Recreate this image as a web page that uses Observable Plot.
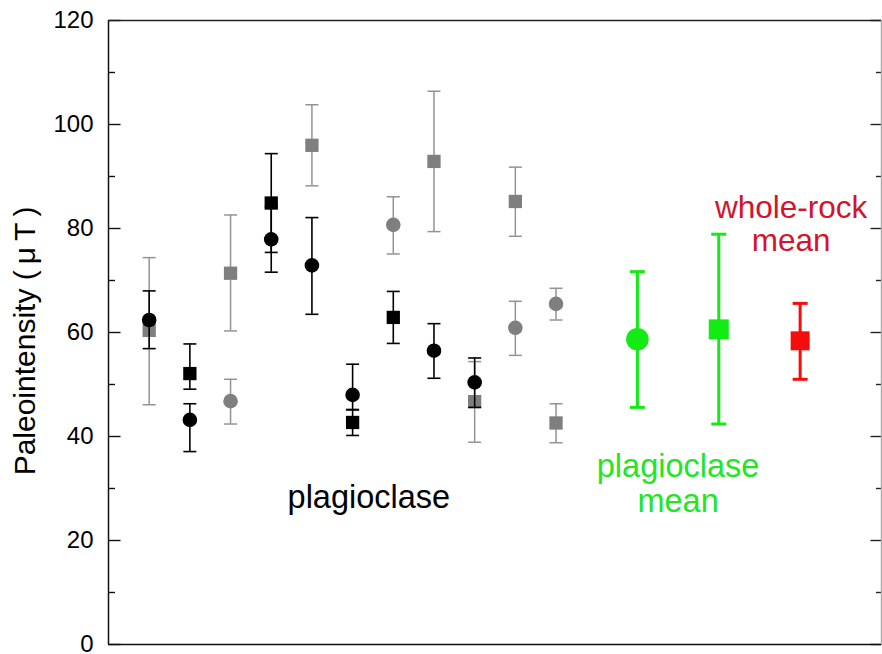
<!DOCTYPE html>
<html><head><meta charset="utf-8">
<script src="https://cdn.jsdelivr.net/npm/d3@7"></script>
<script src="https://cdn.jsdelivr.net/npm/@observablehq/plot@0.6"></script>
<style>html,body{margin:0;padding:0;background:#fff;} #chart svg{display:block;}</style>
</head><body><div id="chart"></div>
<script>
// ---- axes ----
const xDomain = [0, 19];
const yDomain = [0, 120];
const yMajorTicks = [0, 20, 40, 60, 80, 100, 120];
const yMinorTicks = [10, 30, 50, 70, 90, 110];
const yLabel = "Paleointensity (\u2009μ\u2009T\u2009)";

// ---- plagioclase specimens: black circles ----
const blackCircleX  = [1, 2, 4, 5, 6, 8, 9];
const blackCircleV  = [62.4, 43.2, 77.9, 72.9, 48.0, 56.5, 50.4];
const blackCircleLo = [56.9, 37.1, 71.6, 63.5, 45.1, 51.2, 45.6];
const blackCircleHi = [68.0, 46.3, 84.2, 82.1, 53.9, 61.7, 55.1];

// ---- black squares ----
const blackSquareX  = [2, 4, 6, 7];
const blackSquareV  = [52.1, 84.9, 42.7, 62.9];
const blackSquareLo = [49.1, 75.4, 40.2, 57.9];
const blackSquareHi = [57.8, 94.4, 45.2, 67.9];

// ---- grey circles ----
const greyCircleX  = [3, 7, 10, 11];
const greyCircleV  = [46.8, 80.7, 60.9, 65.5];
const greyCircleLo = [42.4, 75.1, 55.6, 62.4];
const greyCircleHi = [51.0, 86.1, 66.0, 68.5];

// ---- grey squares ----
const greySquareX  = [1, 3, 5, 8, 9, 10, 11];
const greySquareV  = [60.4, 71.4, 96.0, 92.9, 46.7, 85.2, 42.6];
const greySquareLo = [46.1, 60.3, 88.2, 79.4, 38.9, 78.5, 38.8];
const greySquareHi = [74.4, 82.6, 103.8, 106.4, 54.4, 91.8, 46.3];

// ---- means ----
const plagMeanCircleX = [13], plagMeanCircleV = [58.7], plagMeanCircleLo = [45.6], plagMeanCircleHi = [71.7];
const plagMeanSquareX = [15], plagMeanSquareV = [60.6], plagMeanSquareLo = [42.4], plagMeanSquareHi = [78.9];
const wholeRockX = [17], wholeRockV = [58.4], wholeRockLo = [51.0], wholeRockHi = [65.6];

// ---- annotation labels (one row per text line, in data units) ----
const blackLabelText = ["plagioclase"];
const blackLabelX = [6.4];
const blackLabelY = [26.2];
const greenLabelText = ["plagioclase", "mean"];
const greenLabelX = [14.0, 14.0];
const greenLabelY = [32.3, 25.4];
const redLabelText = ["whole-rock", "mean"];
const redLabelX = [16.78, 16.78];
const redLabelY = [82.1, 75.7];

// ---- helpers ----
const rows = (xs, v, lo, hi) => xs.map((x, i) => ({x, v: v[i], lo: lo[i], hi: hi[i]}));
const lbl = (t, xs, ys) => t.map((s, i) => ({text: s, x: xs[i], y: ys[i]}));

const capSymbol = {draw(ctx, size) { const w = Math.sqrt(size / Math.PI); ctx.moveTo(-w, 0); ctx.lineTo(w, 0); }};
const inwardFromLeft = len => ({draw(ctx) { ctx.moveTo(0, 0); ctx.lineTo(len, 0); }});
const inwardFromRight = len => ({draw(ctx) { ctx.moveTo(0, 0); ctx.lineTo(-len, 0); }});

function series(data, {fill, bar, barWidth, symbol, r, capR}) {
  return [
    Plot.ruleX(data, {x: "x", y1: "lo", y2: "hi", stroke: bar, strokeWidth: barWidth}),
    Plot.dot(data, {x: "x", y: "hi", symbol: capSymbol, r: capR, stroke: bar, strokeWidth: barWidth, fill: "none"}),
    Plot.dot(data, {x: "x", y: "lo", symbol: capSymbol, r: capR, stroke: bar, strokeWidth: barWidth, fill: "none"}),
    Plot.dot(data, {x: "x", y: "v", symbol, r, fill, stroke: "none"})
  ];
}

const GREY = "#7f7f7f", GREYBAR = "#939393", BLACK = "#000", GREEN = "#14ea14", RED = "#f50d0d";
const FONT = 32.5;

const chart = Plot.plot({
  width: 882,
  height: 654,
  marginLeft: 108,
  marginRight: 1,
  marginTop: 20,
  marginBottom: 10,
  style: {fontFamily: "'Liberation Sans', Arial, Helvetica, sans-serif", background: "#fff", color: "#000"},
  x: {domain: xDomain, axis: null},
  y: {domain: yDomain, axis: null},
  marks: [
    // tick labels
    Plot.axisY(yMajorTicks, {anchor: "left", tickSize: 0, tickPadding: 15, fontSize: 24, label: null}),
    // inward ticks (left and right)
    Plot.dot(yMajorTicks, {y: d => d, frameAnchor: "left", symbol: inwardFromLeft(12), stroke: "#111", strokeWidth: 1.4, fill: "none"}),
    Plot.dot(yMinorTicks, {y: d => d, frameAnchor: "left", symbol: inwardFromLeft(6.5), stroke: "#111", strokeWidth: 1.4, fill: "none"}),
    Plot.dot(yMajorTicks, {y: d => d, frameAnchor: "right", symbol: inwardFromRight(11), stroke: "#222", strokeWidth: 1.4, fill: "none"}),
    Plot.dot(yMinorTicks, {y: d => d, frameAnchor: "right", symbol: inwardFromRight(5.5), stroke: "#222", strokeWidth: 1.4, fill: "none"}),
    // frame
    Plot.ruleX([xDomain[0]], {stroke: "#111", strokeWidth: 1.5}),
    Plot.ruleY([yDomain[0]], {stroke: "#111", strokeWidth: 1.5}),
    Plot.ruleY([yDomain[1]], {stroke: "#222", strokeWidth: 1.5}),
    Plot.ruleX([xDomain[1]], {stroke: "#aaa", strokeWidth: 1.5}),
    // y label
    Plot.text([yLabel], {text: d => d, frameAnchor: "left", textAnchor: "middle", rotate: -90, dx: -83, dy: 8.5, fontSize: 30, fill: "#000"}),
    // grey specimens
    ...series(rows(greySquareX, greySquareV, greySquareLo, greySquareHi), {fill: GREY, bar: GREYBAR, barWidth: 1.5, symbol: "square", r: 7.5, capR: 6.5}),
    ...series(rows(greyCircleX, greyCircleV, greyCircleLo, greyCircleHi), {fill: GREY, bar: GREYBAR, barWidth: 1.5, symbol: "circle", r: 7.3, capR: 6.5}),
    // black specimens
    ...series(rows(blackSquareX, blackSquareV, blackSquareLo, blackSquareHi), {fill: BLACK, bar: BLACK, barWidth: 1.6, symbol: "square", r: 7.5, capR: 6.5}),
    ...series(rows(blackCircleX, blackCircleV, blackCircleLo, blackCircleHi), {fill: BLACK, bar: BLACK, barWidth: 1.6, symbol: "circle", r: 7.3, capR: 6.5}),
    // means
    ...series(rows(plagMeanCircleX, plagMeanCircleV, plagMeanCircleLo, plagMeanCircleHi), {fill: GREEN, bar: GREEN, barWidth: 3, symbol: "circle", r: 11.3, capR: 7.5}),
    ...series(rows(plagMeanSquareX, plagMeanSquareV, plagMeanSquareLo, plagMeanSquareHi), {fill: GREEN, bar: GREEN, barWidth: 3, symbol: "square", r: 11.3, capR: 7.5}),
    ...series(rows(wholeRockX, wholeRockV, wholeRockLo, wholeRockHi), {fill: RED, bar: RED, barWidth: 3, symbol: "square", r: 10.7, capR: 7.5}),
    // annotations
    Plot.text(lbl(blackLabelText, blackLabelX, blackLabelY), {x: "x", y: "y", text: "text", fill: "#000", fontSize: FONT, lineAnchor: "bottom"}),
    Plot.text(lbl(greenLabelText, greenLabelX, greenLabelY), {x: "x", y: "y", text: "text", fill: "#22e622", fontSize: FONT, lineAnchor: "bottom"}),
    Plot.text(lbl(redLabelText, redLabelX, redLabelY), {x: "x", y: "y", text: "text", fill: "#d3142c", fontSize: 31.5, lineAnchor: "bottom"})
  ]
});
document.getElementById("chart").appendChild(chart);
</script>
</body></html>
